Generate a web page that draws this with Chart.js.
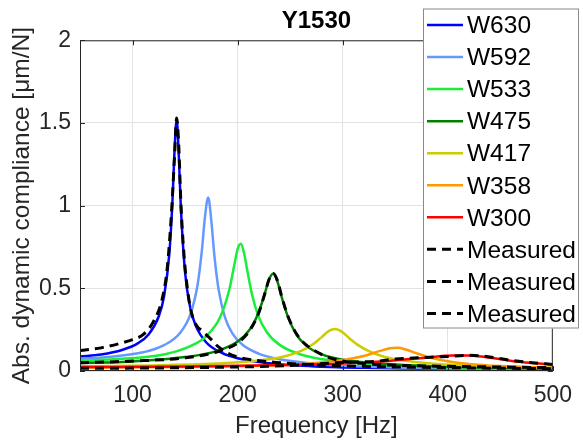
<!DOCTYPE html>
<html><head><meta charset="utf-8">
<script src="https://cdn.jsdelivr.net/npm/chart.js@4/dist/chart.umd.min.js"></script>
<style>html,body{margin:0;padding:0;background:#fff;overflow:hidden}</style>
</head><body>
<canvas id="c" width="583" height="442"></canvas>
<script>
// ---- data ----
const seriesNames = ['W630','W592','W533','W475','W417','W358','W300','Measured','Measured','Measured'];
const xTicks = [100,200,300,400,500];
const yTicks = [0,0.5,1,1.5,2];

const f630 = [50,70,90,105,115,125,130,135,138,140,142,144,146,150,155,160,170,185,200,230,270,320,400,500];
const w630 = [0.088,0.100,0.127,0.167,0.219,0.331,0.452,0.708,1.03,1.34,1.52,1.308,0.988,0.597,0.382,0.276,0.174,0.109,0.077,0.047,0.029,0.019,0.011,0.007];

const f592 = [50,80,110,130,145,155,162,166,169,172,175,178,182,188,195,205,220,240,270,320,400,500];
const w592 = [0.073,0.086,0.113,0.156,0.228,0.342,0.525,0.729,0.936,1.05,0.908,0.692,0.489,0.325,0.228,0.157,0.105,0.071,0.046,0.027,0.015,0.009];

const f533 = [50,90,130,155,170,183,192,197,200,203,206,209,214,220,228,240,260,290,330,400,500];
const w533 = [0.062,0.074,0.1,0.15,0.21,0.32,0.49,0.646,0.737,0.77,0.717,0.615,0.455,0.329,0.233,0.158,0.1,0.062,0.039,0.022,0.013];

const f475 = [50,100,150,180,200,212,220,226,230,234,238,242,248,256,265,280,300,330,370,430,500];
const w475 = [0.048,0.058,0.084,0.12,0.178,0.255,0.353,0.471,0.555,0.59,0.539,0.446,0.326,0.22,0.155,0.1,0.068,0.048,0.033,0.021,0.014];

const f417 = [50,120,180,220,245,260,272,280,287,293,299,306,315,325,340,360,390,430,500];
const w417 = [0.029,0.034,0.045,0.063,0.089,0.12,0.163,0.205,0.243,0.254,0.238,0.2,0.155,0.12,0.085,0.062,0.042,0.03,0.02];

const f358 = [50,150,220,270,300,320,335,345,352,360,370,385,400,420,450,500];
const w358 = [0.02,0.024,0.032,0.046,0.066,0.091,0.12,0.137,0.14,0.13,0.108,0.079,0.059,0.043,0.03,0.019];

const f300 = [50,150,250,300,340,370,390,405,419,432,450,470,500];
const w300 = [0.024,0.027,0.036,0.045,0.059,0.075,0.088,0.093,0.094,0.088,0.072,0.054,0.04];

const fm1 = [50,70,90,100,110,120,128,133,137,140,142,144,146,149,153,157,162,166,170,175,181,190,200,215,240,270,320,400,500];
const m1  = [0.124,0.14,0.17,0.19,0.22,0.3,0.43,0.62,0.95,1.3,1.53,1.36,1.02,0.7,0.46,0.33,0.265,0.245,0.22,0.19,0.15,0.11,0.085,0.066,0.05,0.038,0.028,0.02,0.014];

const fm2 = [50,100,150,180,200,212,220,226,230,234,238,242,248,256,265,280,290,300,320,350,400,450,500];
const m2  = [0.05,0.06,0.08,0.115,0.17,0.25,0.35,0.47,0.555,0.59,0.545,0.45,0.33,0.225,0.16,0.1,0.075,0.06,0.045,0.035,0.028,0.024,0.02];

const fm3 = [50,150,250,300,330,350,380,400,419,440,460,480,500];
const m3  = [0.016,0.02,0.033,0.052,0.058,0.072,0.082,0.088,0.095,0.085,0.065,0.05,0.04];

const seriesFreqs  = [f630,f592,f533,f475,f417,f358,f300,fm1,fm2,fm3];
const seriesValues = [w630,w592,w533,w475,w417,w358,w300,m1,m2,m3];

// ---- styles ----
const seriesColors = ['#0000FF','#6699FF','#1AEE3A','#008000','#CCCC00','#FF9900','#FF0000','#000000','#000000','#000000'];
const FONT = "'Liberation Sans', Arial, Helvetica, sans-serif";
const AX = '#262626';

const datasets = seriesNames.map((name,i)=>{
  const measured = i >= 7;
  return {
    label: name,
    data: seriesFreqs[i].map((f,j)=>({x:f, y:seriesValues[i][j]})),
    borderColor: seriesColors[i],
    backgroundColor: seriesColors[i],
    borderWidth: measured ? 3 : 2.5,
    borderDash: measured ? [9,6] : [],
    pointRadius: 0,
    cubicInterpolationMode: 'monotone',
    fill: false,
    order: seriesNames.length - 1 - i
  };
});

const boxPlugin = {
  id: 'boxAndLegend',
  afterDatasetsDraw(chart){
    const {ctx, chartArea:a, scales:{x,y}} = chart;
    ctx.save();
    ctx.strokeStyle = AX; ctx.lineWidth = 1;
    // inner ticks
    ctx.beginPath();
    xTicks.forEach(v=>{ const px = Math.round(x.getPixelForValue(v))+0.5;
      ctx.moveTo(px,a.bottom); ctx.lineTo(px,a.bottom-5);
      ctx.moveTo(px,a.top); ctx.lineTo(px,a.top+5); });
    yTicks.forEach(v=>{ const py = Math.round(y.getPixelForValue(v))+0.5;
      ctx.moveTo(a.left,py); ctx.lineTo(a.left+5,py);
      ctx.moveTo(a.right,py); ctx.lineTo(a.right-5,py); });
    ctx.stroke();
    ctx.strokeRect(a.left+0.5, a.top+0.5, a.right-a.left-1, a.bottom-a.top-1);
    // legend
    const lx = 423, ly = 8.5, lw = 156, lh = 320;
    ctx.fillStyle = '#fff';
    ctx.fillRect(lx, ly, lw, lh);
    ctx.strokeStyle = '#8a8a8a';
    ctx.lineWidth = 1;
    ctx.strokeRect(lx+0.5, ly+0.5, lw-1, lh-1);
    ctx.font = '24.5px ' + FONT;
    ctx.textBaseline = 'middle';
    ctx.textAlign = 'left';
    seriesNames.forEach((name,i)=>{
      const ds = chart.data.datasets[i];
      const cy = 25 + i*32.05;
      ctx.beginPath();
      ctx.strokeStyle = ds.borderColor;
      ctx.lineWidth = ds.borderWidth;
      ctx.setLineDash(ds.borderDash);
      ctx.moveTo(427, cy); ctx.lineTo(463, cy);
      ctx.stroke();
      ctx.setLineDash([]);
      ctx.fillStyle = '#000';
      ctx.fillText(name, 467, cy+1.5);
    });
    ctx.restore();
  }
};

new Chart(document.getElementById('c'), {
  type: 'line',
  data: { datasets },
  options: {
    responsive: false,
    animation: false,
    devicePixelRatio: 1,
    layout: { padding: { left: 0, right: 19, top: 0, bottom: 0 } },
    plugins: {
      legend: { display: false },
      tooltip: { enabled: false },
      title: {
        display: true, text: 'Y1530', color: '#000', fullSize: false,
        font: { family: FONT, size: 24, weight: 'bold' },
        padding: { top: 7, bottom: 4.5 }
      }
    },
    scales: {
      x: {
        type: 'linear', min: 50, max: 500,
        afterBuildTicks: s => { s.ticks = xTicks.map(v=>({value:v})); },
        afterFit: s => { s.height = 71; },
        grid: { color: '#e3e3e3', drawTicks: false },
        border: { display: false },
        ticks: { color: AX, padding: 11, font: { family: FONT, size: 23 }, maxRotation: 0 },
        title: { display: true, text: 'Frequency [Hz]', color: AX, font: { family: FONT, size: 24 }, padding: { top: 0, bottom: 1 } }
      },
      y: {
        type: 'linear', min: 0, max: 2,
        afterBuildTicks: s => { s.ticks = yTicks.map(v=>({value:v})); },
        afterFit: s => { s.width = 80; },
        grid: { color: '#e3e3e3', drawTicks: false },
        border: { display: false },
        ticks: { color: AX, padding: 9, font: { family: FONT, size: 23 }, callback: v => String(v) },
        title: { display: true, text: 'Abs. dynamic compliance [μm/N]', color: AX, font: { family: FONT, size: 24.5 }, padding: { top: 8, bottom: 0 } }
      }
    }
  },
  plugins: [boxPlugin]
});
</script>
</body></html>
